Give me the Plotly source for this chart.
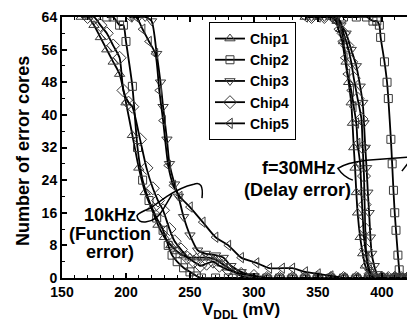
import plotly.graph_objects as go

# ---------------- data ----------------
chips = ["Chip1", "Chip2", "Chip3", "Chip4", "Chip5"]
symbols = ["triangle-up-open", "square-open", "triangle-down-open", "diamond-open", "triangle-left-open"]

# 10 kHz (function error)
chip1_10k_v = [165, 170, 175, 180, 185, 190, 195, 200, 205, 210, 215, 220, 225, 230, 235, 240, 245, 250, 255, 260, 265, 270, 275, 280, 285, 290, 300, 310, 320, 330, 340, 350, 360, 370, 380, 390, 400, 410, 420]
chip1_10k_e = [64, 64, 62, 59, 56, 53, 50, 43, 35, 27, 21, 17, 13, 10, 8, 6.5, 5.5, 5, 5, 5, 5, 4.5, 3.5, 2.5, 1.5, 0.5, 0, 0, 0, 0, 0, 0, 0, 0, 0, 0, 0, 0, 0]
chip2_10k_v = [185, 190, 195, 198, 200, 205, 209, 213, 218, 224, 229, 233, 236, 240, 245, 250, 255, 259, 270, 280, 290, 300, 310, 320, 330, 340, 350, 360, 370, 380, 390, 400, 410, 420]
chip2_10k_e = [64, 64, 62, 62, 58, 47, 32, 24, 19, 14.7, 11.7, 8, 5.6, 4, 2.5, 1.5, 0.5, 0, 0, 0, 0, 0, 0, 0, 0, 0, 0, 0, 0, 0, 0, 0, 0, 0]
chip3_10k_v = [205, 210, 215, 220, 224, 227, 229, 232, 234, 238, 241, 245, 250, 256, 262, 270, 276, 282, 290, 300, 310, 320, 330, 340, 350, 360, 370, 380, 390, 400, 410, 420]
chip3_10k_e = [64, 64, 64, 63, 55, 48, 42, 34, 28, 23, 20, 15, 10.5, 6.8, 6, 5.6, 5, 3, 1.5, 0.5, 0, 0, 0, 0, 0, 0, 0, 0, 0, 0, 0, 0]
chip4_10k_v = [170, 175, 180, 185, 190, 195, 198, 202, 205, 211, 216, 221, 225, 229, 234, 238, 243, 248, 253, 258, 263, 268, 273, 280, 290, 300, 310, 320, 330, 340, 350, 360, 370, 380, 390, 400, 410, 420]
chip4_10k_e = [64, 64, 62, 60, 57, 54, 46, 43, 42, 34, 27, 22, 19, 16.6, 12, 9, 7, 5, 4, 3, 3.5, 4, 3, 2, 1, 0.5, 0, 0, 0, 0, 0, 0, 0, 0, 0, 0, 0, 0]
chip5_10k_v = [203, 208, 213, 218, 223, 226, 229, 233, 237, 242, 250, 260, 270, 280, 290, 302, 312, 322, 330, 340, 350, 360, 370, 380, 390, 400, 410, 420]
chip5_10k_e = [64, 64, 61, 58, 55, 46, 38.6, 27.6, 22.7, 20, 17.4, 13.7, 10, 8, 5, 3.7, 2.4, 2.4, 2.4, 1.5, 1, 0.5, 0, 0, 0, 0, 0, 0]

# 30 MHz (delay error)
chip1_30m_v = [340, 350, 360, 365, 368, 370, 372, 374, 376, 377, 378, 379, 380, 381, 383, 385, 387, 390, 392, 395, 400, 405, 410, 415, 420]
chip1_30m_e = [64, 64, 64, 63, 61, 58, 53, 48, 43, 38, 32, 27, 21, 16, 10, 6, 3, 1, 0, 0, 0, 0, 0, 0, 0]
chip2_30m_v = [370, 380, 388, 393, 396, 398, 399, 402, 404, 405, 407, 408, 409, 410, 411, 412.5, 413.5, 414, 418]
chip2_30m_e = [64, 64, 64, 63, 63, 62, 59, 53, 48, 44, 34, 28, 21.5, 16, 11.7, 5.6, 2, 0, 0]
chip3_30m_v = [345, 355, 365, 368, 372, 376, 380, 383, 385, 386, 387, 388, 389, 390, 391, 392, 394, 396, 398, 402, 406, 410, 415, 420]
chip3_30m_e = [64, 64, 64, 62, 60, 56, 52, 47, 43, 38, 32, 27, 21, 16, 10, 6, 3, 1, 0, 0, 0, 0, 0, 0]
chip4_30m_v = [345, 355, 362, 367, 370, 373, 376, 378, 381, 384, 385, 386, 386.5, 387, 387.5, 389, 391, 394, 400, 405, 410, 415, 420]
chip4_30m_e = [64, 64, 64, 63, 60, 57, 53, 49, 44, 39, 32, 25, 18, 12, 7, 3, 1, 0, 0, 0, 0, 0, 0]
chip5_30m_v = [340, 350, 360, 364, 366, 369, 371, 373, 376, 378, 380, 381, 383, 384, 385, 386, 388, 390, 393, 398, 403, 408, 413, 418]
chip5_30m_e = [64, 64, 64, 63, 61, 58, 54, 50, 46, 42, 38, 33, 28, 21, 15, 10, 5, 2, 0, 0, 0, 0, 0, 0]

series_10k = [(chip1_10k_v, chip1_10k_e), (chip2_10k_v, chip2_10k_e), (chip3_10k_v, chip3_10k_e),
              (chip4_10k_v, chip4_10k_e), (chip5_10k_v, chip5_10k_e)]
series_30m = [(chip1_30m_v, chip1_30m_e), (chip2_30m_v, chip2_30m_e), (chip3_30m_v, chip3_30m_e),
              (chip4_30m_v, chip4_30m_e), (chip5_30m_v, chip5_30m_e)]

x_ticks = [150, 200, 250, 300, 350, 400]
y_ticks = [0, 8, 16, 24, 32, 40, 48, 56, 64]

FONT = "Liberation Sans, Arial, sans-serif"
marker_sizes = [9, 8, 9, 10, 9]

fig = go.Figure()
for i, name in enumerate(chips):
    for j, (v, e) in enumerate([series_10k[i], series_30m[i]]):
        fig.add_trace(go.Scatter(
            x=v, y=e, mode="lines+markers", name=name,
            legendgroup=name, showlegend=(j == 0),
            line=dict(color="black", width=1.8, shape="spline", smoothing=0.6),
            marker=dict(symbol=symbols[i], size=marker_sizes[i], color="#3a3a3a",
                        line=dict(color="#3a3a3a", width=1)),
        ))

axis_common = dict(
    showgrid=False, zeroline=False, showline=True, linecolor="black", linewidth=2,
    ticks="inside", ticklen=5, tickwidth=1.5, tickcolor="black",
    tickfont=dict(family=FONT, size=14, color="black", weight="bold"),
)

fig.update_layout(
    width=407, height=322,
    margin=dict(l=62, r=0, t=17, b=44),
    paper_bgcolor="white", plot_bgcolor="white",
    font=dict(family=FONT, color="black"),
    xaxis=dict(range=[150, 419.6], tickvals=x_ticks, mirror="ticks",
               minor=dict(dtick=10, ticks="inside", ticklen=3, tickwidth=1.2, tickcolor="black"),
               **axis_common),
    yaxis=dict(range=[0, 64], tickvals=y_ticks, mirror=False,
               minor=dict(dtick=4, ticks="inside", ticklen=3, tickwidth=1.2, tickcolor="black"),
               **axis_common),
    legend=dict(x=0.426, y=0.981, xanchor="left", yanchor="top",
                bgcolor="white", bordercolor="black", borderwidth=1,
                font=dict(family=FONT, size=14, color="black", weight="bold"),
                tracegroupgap=0, itemwidth=30),
    showlegend=True,
)

# axis titles
fig.add_annotation(text="<b>V<sub>DDL</sub> (mV)</b>", xref="paper", yref="paper",
                   x=0.52, y=-0.128, xanchor="center", yanchor="middle", showarrow=False,
                   font=dict(family=FONT, size=17, color="black"))
fig.add_annotation(text="<b>Number of error cores</b>", xref="paper", yref="paper",
                   x=-0.113, y=0.487, xanchor="center", yanchor="middle", showarrow=False,
                   textangle=-90, font=dict(family=FONT, size=18, color="black"))

# in-plot labels
labels = [("10kHz", 187.5, 15.4), ("(Function", 187.5, 10.9), ("error)", 187.5, 6.3),
          ("f=30MHz", 335.2, 26.9), ("(Delay error)", 334.4, 21.5)]
for t, lx, ly in labels:
    fig.add_annotation(text="<b>%s</b>" % t, x=lx, y=ly, xref="x", yref="y",
                       showarrow=False, xanchor="center", yanchor="middle",
                       font=dict(family=FONT, size=18, color="black"))

# lasso-shaped pointers
fig.add_shape(type="path", xref="x", yref="y",
              path="M 259.4,19.6 Q 261,24 253,23 Q 243,22.3 232,20 L 218.8,17.1 "
                   "Q 210,16 208.6,15.3 Q 209,13.5 216,13.8 Q 224,14 229,16.8 L 236,20.5",
              line=dict(color="black", width=1.5))
fig.add_shape(type="path", xref="x", yref="y",
              path="M 377.3,24.0 Q 370,24.8 365.6,26.9 Q 372,28.3 388,28.9 L 419.5,29.6 "
                   "Q 428,29.8 421,28.4 L 415.6,26.2",
              line=dict(color="black", width=1.5))

fig.write_html("out.html")
